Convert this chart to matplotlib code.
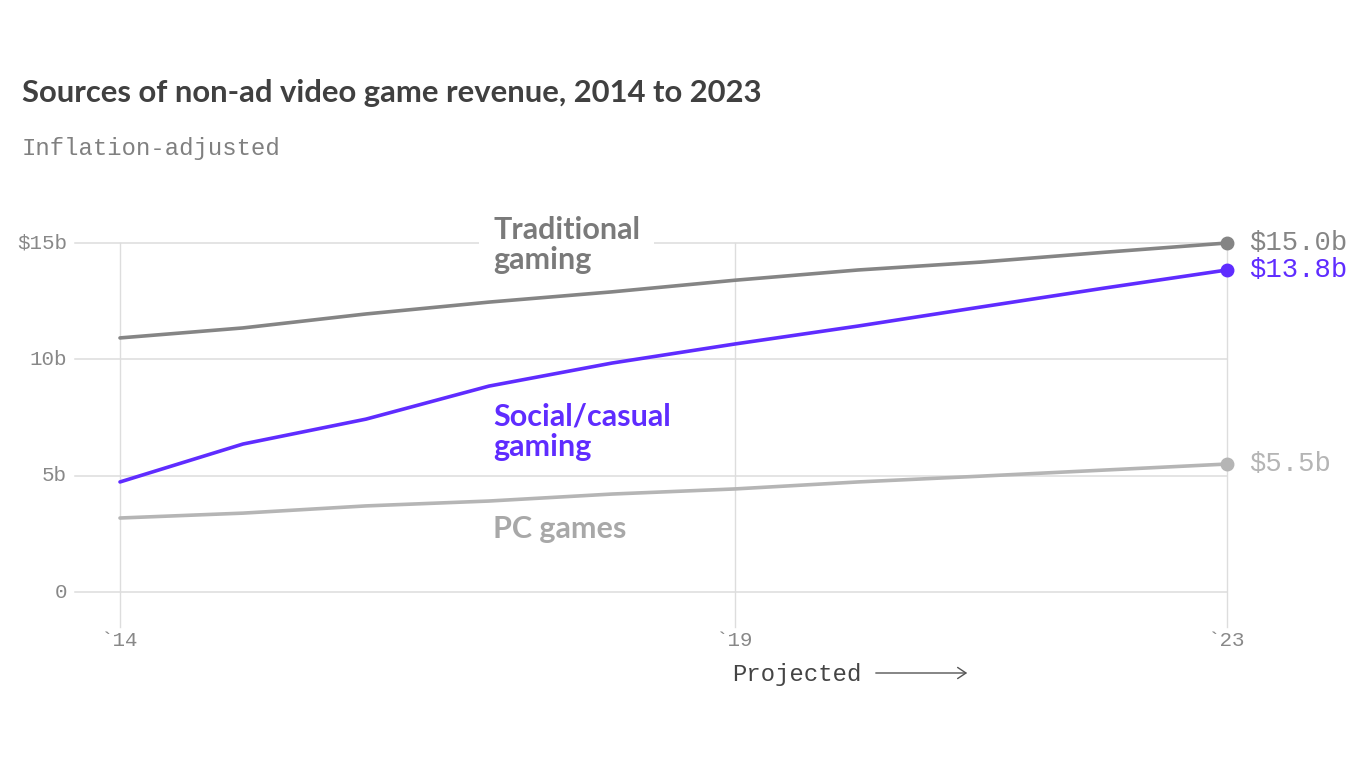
import matplotlib
matplotlib.use("Agg")
import matplotlib.pyplot as plt

years = [2014, 2015, 2016, 2017, 2018, 2019, 2020, 2021, 2022, 2023]
traditional = [10.92, 11.35, 11.95, 12.46, 12.9, 13.4, 13.84, 14.18, 14.6, 15.0]
social = [4.73, 6.36, 7.43, 8.85, 9.84, 10.66, 11.43, 12.25, 13.06, 13.84]
pc = [3.18, 3.39, 3.7, 3.91, 4.21, 4.43, 4.73, 4.98, 5.24, 5.5]
end_labels = ["$15.0b", "$13.8b", "$5.5b"]
ytick_vals = [0, 5, 10, 15]
ytick_labels = ["0", "5b", "10b", "$15b"]
xtick_vals = [2014, 2019, 2023]
xtick_labels = ["`14", "`19", "`23"]

C_TRAD = "#858585"
C_SOC = "#5f2cff"
C_PC = "#b5b5b5"
MONO = ["Liberation Mono", "DejaVu Sans Mono"]
SANS = ["Lato", "DejaVu Sans"]

W, H = 1366, 768
fig = plt.figure(figsize=(W / 100, H / 100), dpi=100)
fig.patch.set_facecolor("white")

left_px, right_px, top_px, bot_px = 75, 1227, 243, 627
ax = fig.add_axes([left_px / W, 1 - bot_px / H, (right_px - left_px) / W, (bot_px - top_px) / H])
ppy = (1227 - 120) / 9.0
ax.set_xlim(2014 - (120 - 75) / ppy, 2023)
ppv = (592 - 243) / 15.0
ax.set_ylim(-(627 - 592) / ppv, 15)

for s in ax.spines.values():
    s.set_visible(False)
ax.set_xticks([])
ax.set_yticks([])

# gridlines
for v in ytick_vals:
    ax.plot([ax.get_xlim()[0], 2023], [v, v], color="#dddddd", lw=1.1, zorder=1, clip_on=False)
for v in xtick_vals:
    ax.plot([v, v], [ax.get_ylim()[0], 15], color="#dddddd", lw=1.0, zorder=1, clip_on=False)

# tick labels
for v, lab in zip(ytick_vals, ytick_labels):
    ax.text(2014 - (120 - 67) / ppy, v, lab, ha="right", va="center", fontsize=15,
            family=MONO, color="#888888")
for v, lab in zip(xtick_vals, xtick_labels):
    ax.text(v, -1.5 - (641 - 627) / ppv, lab, ha="center", va="center", fontsize=15,
            family=MONO, color="#888888")

# lines
series = [(traditional, C_TRAD, end_labels[0]), (social, C_SOC, end_labels[1]), (pc, C_PC, end_labels[2])]
for vals, c, lab in series:
    ax.plot(years, vals, color=c, lw=2.6, zorder=3, clip_on=False, solid_capstyle="round")
    ax.plot([years[-1]], [vals[-1]], "o", color=c, ms=9, zorder=4, clip_on=False)
    ax.text(years[-1] + 22 / ppy, vals[-1], lab, ha="left", va="center", fontsize=19.6,
            family=MONO, color=c)

# series labels
lx = 2014 + (493 - 120) / ppy
ax.text(lx, (592 - 245) / ppv, "Traditional\ngaming", ha="left", va="center", fontsize=22,
        family=SANS, fontweight="bold", color="#7a7a7a", linespacing=1.1, zorder=2,
        bbox=dict(facecolor="white", edgecolor="none", pad=10))
ax.text(lx, (592 - 432) / ppv, "Social/casual\ngaming", ha="left", va="center", fontsize=22,
        family=SANS, fontweight="bold", color=C_SOC, linespacing=1.1, zorder=5)
ax.text(lx, (592 - 529) / ppv, "PC games", ha="left", va="center", fontsize=22,
        family=SANS, fontweight="bold", color="#a8a8a8", zorder=5)

# titles
fig.text(22 / W, 1 - 93 / H, "Sources of non-ad video game revenue, 2014 to 2023", ha="left",
         va="center", fontsize=22.3, family=SANS, fontweight="bold", color="#404040")
fig.text(22 / W, 1 - 148 / H, "Inflation-adjusted", ha="left", va="center", fontsize=17.2,
         family=MONO, color="#808080")

# projected
fig.text(732 / W, 1 - 674 / H, "Projected", ha="left", va="center", fontsize=17.2,
         family=MONO, color="#444444")
fig.add_artist(matplotlib.patches.FancyArrowPatch((873 / W, 1 - 673 / H), (970 / W, 1 - 673 / H),
               transform=fig.transFigure, arrowstyle="->,head_length=6,head_width=4",
               color="#555555", lw=1.0, mutation_scale=1))

fig.savefig("out.png", dpi=100, facecolor="white")
